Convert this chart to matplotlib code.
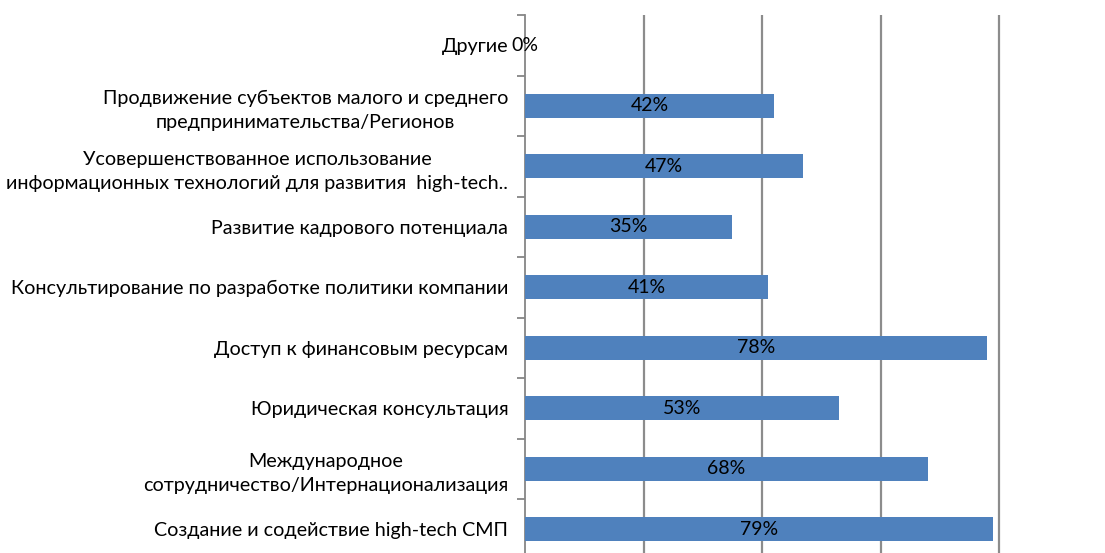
import matplotlib.pyplot as plt

plt.rcParams['font.family'] = ['Lato', 'DejaVu Sans']

# categories from bottom to top
categories = [
    "Создание и содействие high-tech СМП",
    "Международное\nсотрудничество/Интернационализация",
    "Юридическая консультация",
    "Доступ к финансовым ресурсам",
    "Консультирование по разработке политики компании",
    "Развитие кадрового потенциала",
    "Усовершенствованное использование\nинформационных технологий для развития  high-tech..",
    "Продвижение субъектов малого и среднего\nпредпринимательства/Регионов",
    "Другие",
]
values = [79, 68, 53, 78, 41, 35, 47, 42, 0]

fig = plt.figure(figsize=(11.05, 5.53), dpi=100)
# axis runs from 0% to 100%, figure is cropped on the right and bottom
ax = fig.add_axes([525 / 1105, 1 - 559.5 / 553, 592.5 / 1105, 544.5 / 553])

y = list(range(len(categories)))
ax.barh(y, values, height=0.4, color="#4F81BD", zorder=3)

for yi, v in zip(y, values):
    ax.text(v / 2, yi, f"{v}%", ha="center", va="center", fontsize=14,
            color="black", zorder=4)

ax.set_xlim(0, 100)
ax.set_ylim(-0.5, len(categories) - 0.5)

ax.set_xticks([20, 40, 60, 80])
ax.set_xticklabels([])
ax.tick_params(axis="x", length=0)
ax.grid(axis="x", color="#8c8c8c", linewidth=1.6, zorder=0)

ax.set_yticks(y)
ax.set_yticklabels(categories, fontsize=14.2)
for t in ax.get_yticklabels():
    t.set_multialignment("center")
    t.set_linespacing(1.5)
ax.tick_params(axis="y", which="major", length=0, pad=12)
ax.set_yticks([i + 0.5 for i in range(len(categories) - 1)] + [len(categories) - 0.5], minor=True)
ax.tick_params(axis="y", which="minor", length=6, width=1.3, color="#868686")

for s in ["top", "right", "bottom"]:
    ax.spines[s].set_visible(False)
ax.spines["left"].set_color("#868686")
ax.spines["left"].set_linewidth(1.3)

fig.savefig("out.png", dpi=100)
